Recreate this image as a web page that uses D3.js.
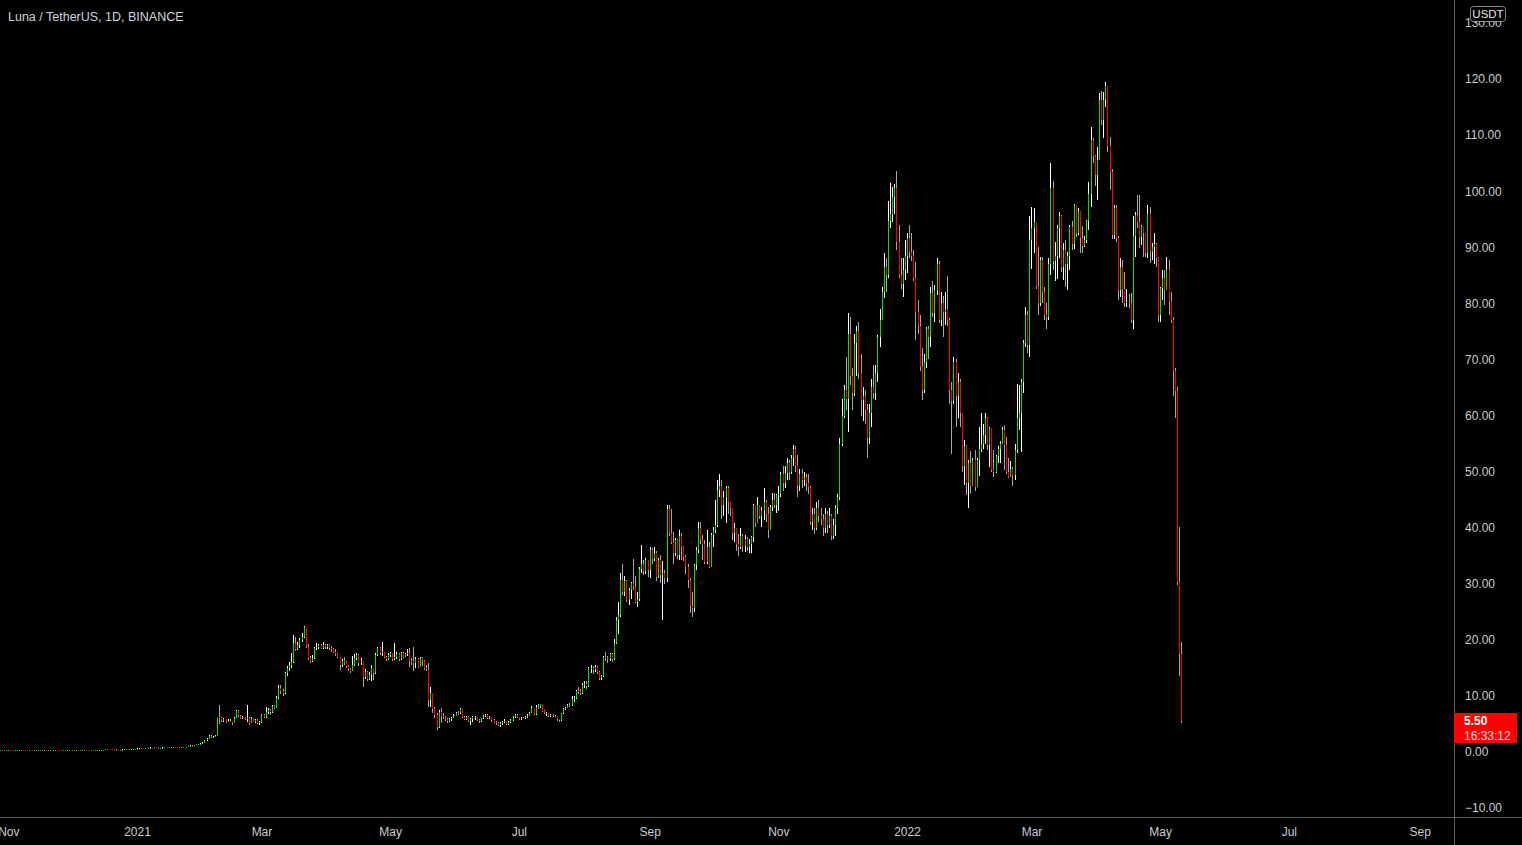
<!DOCTYPE html>
<html>
<head>
<meta charset="utf-8">
<script src="https://cdn.jsdelivr.net/npm/d3@7"></script>
<style>
html, body { margin: 0; background: #000; overflow: hidden; }
svg { display: block; }
</style>
</head>
<body>
<svg id="chart"></svg>
<script>
// daily candles: [close, high, low], open = previous close
const firstOpen = 0.30;
const oct20 = [[0.30,0.31,0.28],[0.29,0.31,0.28],[0.28,0.30,0.27],[0.29,0.30,0.27]];
const nov20 = [[0.29,0.30,0.27],[0.28,0.30,0.27],[0.27,0.29,0.26],[0.27,0.28,0.25],[0.28,0.29,0.26],[0.30,0.31,0.27],[0.31,0.33,0.29],[0.30,0.32,0.29],[0.29,0.31,0.28],[0.28,0.30,0.27],
  [0.29,0.30,0.27],[0.28,0.30,0.27],[0.28,0.29,0.27],[0.27,0.29,0.26],[0.27,0.28,0.25],[0.29,0.30,0.26],[0.28,0.30,0.27],[0.30,0.31,0.27],[0.29,0.31,0.28],[0.29,0.30,0.28],
  [0.31,0.32,0.28],[0.33,0.35,0.30],[0.34,0.36,0.32],[0.33,0.35,0.31],[0.31,0.34,0.29],[0.29,0.32,0.27],[0.30,0.31,0.28],[0.31,0.32,0.29],[0.33,0.34,0.30],[0.34,0.36,0.32]];
const dec20 = [[0.36,0.38,0.33],[0.35,0.37,0.34],[0.37,0.38,0.34],[0.36,0.38,0.35],[0.37,0.39,0.35],[0.38,0.40,0.36],[0.37,0.39,0.36],[0.36,0.38,0.35],[0.35,0.37,0.33],[0.36,0.37,0.34],
  [0.35,0.37,0.34],[0.37,0.38,0.34],[0.38,0.40,0.36],[0.39,0.40,0.37],[0.40,0.42,0.38],[0.42,0.44,0.39],[0.45,0.47,0.41],[0.48,0.50,0.44],[0.47,0.49,0.45],[0.46,0.48,0.44],
  [0.44,0.47,0.42],[0.43,0.45,0.40],[0.40,0.44,0.37],[0.42,0.43,0.39],[0.44,0.45,0.41],[0.47,0.48,0.43],[0.48,0.50,0.45],[0.50,0.52,0.47],[0.52,0.54,0.49],[0.54,0.56,0.51],[0.58,0.60,0.53]];
const jan21 = [[0.62,0.66,0.56],[0.60,0.65,0.57],[0.66,0.69,0.59],[0.64,0.68,0.58],[0.70,0.72,0.63],[0.74,0.77,0.69],[0.78,0.82,0.72],[0.75,0.80,0.70],[0.82,0.85,0.74],[0.80,0.86,0.76],
  [0.70,0.81,0.64],[0.72,0.76,0.67],[0.80,0.83,0.71],[0.85,0.88,0.79],[0.83,0.88,0.79],[0.88,0.91,0.82],[0.90,0.94,0.86],[0.95,0.98,0.88],[0.92,0.97,0.89],[0.88,0.93,0.84],
  [0.82,0.89,0.78],[0.86,0.88,0.80],[0.90,0.93,0.85],[0.95,0.97,0.88],[1.05,1.08,0.94],[1.15,1.20,1.02],[1.10,1.18,1.05],[1.25,1.28,1.08],[1.35,1.40,1.22],[1.40,1.46,1.30],[1.45,1.52,1.36]];
const feb21 = [[1.60,1.70,1.42],[2.10,2.20,1.58],[2.30,2.45,2.00],[2.90,3.00,2.25],[2.60,3.10,2.50],[2.70,2.85,2.45],[2.90,3.05,2.60],[6.20,6.30,2.80],[6.00,8.40,5.00],[5.60,6.30,5.30],
  [5.80,6.10,5.40],[5.40,5.90,5.20],[5.60,5.80,5.30],[5.50,5.80,5.30],[5.20,5.60,4.90],[6.10,6.30,5.10],[7.30,7.50,6.00],[6.50,7.40,6.30],[6.00,6.60,5.80],[6.20,6.50,5.80],
  [5.90,6.30,5.70],[6.10,8.30,5.30],[5.20,6.20,4.80],[6.00,6.20,5.10],[5.40,6.10,5.30],[5.70,5.90,5.10],[5.10,5.80,5.00],[5.30,5.60,4.90]];
const mar21 = [[6.60,6.80,5.20],[6.20,6.70,6.00],[7.20,8.00,6.10],[7.50,7.80,6.80],[7.10,7.60,6.60],[8.20,8.40,7.00],[7.90,8.40,7.60],[9.60,9.90,7.80],[11.5,12.0,9.40],[10.8,12.0,10.3],
  [10.5,11.2,10.0],[14.0,14.3,10.4],[15.0,15.4,13.6],[15.3,16.0,14.5],[16.0,17.7,15.0],[19.5,20.9,15.8],[18.4,20.5,18.0],[19.0,19.6,18.2],[20.0,20.4,18.6],[20.5,21.2,19.6],
  [22.2,22.4,20.3],[18.8,22.3,18.5],[16.8,19.2,16.4],[16.3,17.2,15.9],[16.8,17.3,16.0],[18.5,18.7,16.6],[18.8,19.4,18.2],[19.0,19.3,18.4],[18.6,19.3,18.3],[19.1,19.6,18.4],[18.7,19.3,18.3]];
const apr21 = [[19.0,19.3,18.4],[18.5,19.2,18.2],[18.3,18.9,17.9],[17.9,18.5,17.6],[17.5,18.4,17.2],[16.9,17.7,16.7],[15.5,17.0,14.7],[16.2,16.5,15.2],[16.0,16.9,15.6],[15.3,16.2,15.0],
  [14.8,15.6,14.5],[14.5,15.0,14.1],[15.6,17.2,14.4],[16.7,17.5,15.4],[17.3,17.7,16.4],[15.8,17.4,15.4],[16.2,16.8,15.6],[13.4,16.3,11.6],[14.2,14.8,13.0],[13.1,14.4,12.6],
  [13.8,14.2,12.9],[14.9,15.6,12.6],[14.0,15.0,12.8],[17.3,17.6,13.9],[18.6,18.8,17.2],[17.6,18.7,17.3],[17.8,19.6,17.2],[17.0,17.9,16.8],[16.5,17.2,16.2],[17.3,17.6,16.4]];
const may21 = [[17.6,17.9,17.0],[16.6,17.7,16.3],[17.0,19.4,16.4],[17.5,17.8,16.5],[16.5,17.6,16.2],[17.6,17.9,16.4],[17.0,17.8,16.8],[17.4,17.6,16.9],[17.7,18.4,17.1],[16.3,18.6,15.1],
  [16.2,16.8,15.6],[15.8,18.8,14.5],[16.5,16.9,15.0],[15.2,16.7,15.0],[16.7,16.9,15.1],[16.3,17.0,15.4],[15.0,16.4,14.6],[14.8,15.6,14.4],[9.30,15.9,8.00],[10.5,11.6,8.00],
  [7.60,10.6,7.00],[6.60,8.00,6.00],[4.50,6.90,3.90],[7.20,7.50,4.30],[6.50,7.80,5.20],[6.30,6.90,5.90],[5.80,6.50,5.50],[5.60,6.00,5.20],[5.90,6.10,5.30],[6.10,6.30,5.60],[6.50,6.80,6.00]];
const jun21 = [[7.00,7.20,6.40],[6.90,7.30,6.60],[7.70,7.90,6.80],[6.30,7.70,6.10],[5.90,6.50,5.70],[6.30,6.50,5.70],[5.50,6.40,5.30],[5.80,6.00,4.90],[6.20,6.40,5.40],[6.20,6.40,5.70],
  [5.70,6.30,5.50],[5.50,5.80,5.20],[6.00,6.10,5.40],[6.40,6.60,5.90],[6.60,6.80,6.20],[6.00,6.70,5.90],[6.30,6.40,5.90],[5.70,6.30,5.40],[5.40,5.80,5.20],[5.10,5.50,4.80],
  [4.90,5.40,4.60],[5.20,5.40,4.50],[5.30,5.60,4.90],[5.60,5.80,5.10],[5.00,5.60,4.90],[5.40,5.60,4.90],[5.70,5.80,5.20],[6.20,6.40,5.60],[6.60,6.80,6.10],[6.20,6.70,6.00]];
const jul21 = [[5.90,6.30,5.70],[6.10,6.20,5.70],[6.00,6.30,5.80],[6.30,6.40,5.90],[6.50,6.70,6.00],[7.00,7.20,6.40],[7.80,8.20,6.90],[6.70,7.90,6.60],[8.10,8.30,6.60],[8.00,8.60,7.70],
  [8.50,8.60,7.80],[7.30,8.50,7.10],[6.90,7.40,6.70],[6.90,7.10,6.50],[6.50,7.00,6.30],[6.60,6.80,6.30],[6.40,6.70,6.20],[6.40,6.60,6.20],[5.80,6.50,5.60],[5.70,5.90,5.40],
  [6.90,7.00,5.60],[7.60,7.80,6.80],[7.90,8.10,7.40],[8.40,8.60,7.80],[8.30,8.70,8.00],[9.50,9.90,8.20],[9.60,10.0,9.00],[10.9,11.0,9.50],[10.8,11.6,10.3],[10.5,11.2,10.1],[12.0,12.3,10.4]];
const aug21 = [[12.2,12.7,11.4],[11.8,12.6,11.3],[14.9,15.2,11.6],[15.0,15.5,14.1],[14.6,15.3,13.9],[15.2,15.5,14.3],[14.2,15.4,13.9],[13.2,14.5,12.9],[13.5,13.8,12.8],[17.0,17.2,13.3],
  [16.8,17.9,16.2],[16.5,17.2,15.9],[17.4,17.7,16.2],[16.5,17.6,16.1],[19.5,20.2,16.4],[23.5,24.0,19.2],[24.5,26.8,21.0],[30.7,31.9,24.0],[28.6,33.5,28.0],[30.5,31.3,27.8],
  [27.1,30.7,26.8],[28.9,29.3,26.2],[30.1,30.4,27.2],[29.5,34.5,28.9],[26.8,31.3,26.5],[27.3,28.5,25.9],[32.7,33.0,27.0],[33.5,36.9,32.0],[32.2,34.2,31.5],[34.3,34.6,31.8],[32.5,33.6,31.2]];
const sep21 = [[36.0,36.6,31.0],[34.5,36.3,33.5],[35.5,36.6,34.0],[31.2,35.8,30.5],[34.3,34.6,31.0],[31.5,35.1,30.1],[32.0,34.0,23.5],[31.0,32.5,30.0],[43.4,44.0,30.4],[39.0,44.0,38.5],
  [37.5,43.4,37.0],[35.4,39.3,33.6],[37.8,38.2,35.0],[35.1,38.0,34.5],[38.5,39.6,34.2],[36.5,39.0,34.2],[34.8,36.8,34.0],[33.0,35.1,31.8],[30.7,33.5,29.2],[26.0,31.0,24.7],
  [25.6,28.5,24.1],[33.3,33.6,25.0],[36.0,36.6,32.5],[40.0,41.0,35.5],[37.8,41.0,37.0],[37.0,38.7,34.2],[33.9,37.8,33.5],[36.6,39.6,33.6],[33.0,37.5,32.8],[38.7,39.0,33.0]];
const oct21 = [[39.5,40.2,36.6],[40.5,45.0,39.0],[46.7,48.5,40.2],[47.5,49.5,45.5],[44.0,48.5,41.5],[45.5,46.5,42.0],[47.0,47.5,40.8],[44.5,47.5,42.5],[43.5,44.3,42.0],[39.0,43.5,37.8],
  [40.0,40.8,37.5],[37.0,40.0,35.8],[36.5,38.8,35.0],[38.5,39.9,36.2],[36.8,38.8,35.7],[38.0,38.7,35.7],[36.5,38.3,35.9],[37.0,38.0,35.5],[38.4,38.6,35.4],[44.0,44.3,37.5],
  [40.8,43.5,40.2],[44.0,45.5,40.8],[42.0,43.7,41.5],[43.1,43.7,40.2],[44.5,47.0,41.4],[42.5,45.0,41.0],[39.6,43.7,38.1],[43.7,44.0,39.6],[45.0,46.1,43.0],[44.0,46.1,43.5],[45.8,46.0,42.6]];
const nov21 = [[46.0,47.5,43.0],[49.5,50.0,45.5],[48.0,51.0,46.5],[49.8,51.0,47.0],[51.5,52.5,48.5],[50.0,52.0,48.5],[52.5,53.0,49.5],[54.0,54.8,51.0],[51.0,54.5,50.0],[47.5,53.0,45.5],
  [49.5,50.5,46.5],[48.5,50.5,47.0],[49.0,50.0,47.5],[48.0,49.5,46.5],[47.2,49.5,46.0],[41.0,47.5,40.5],[42.5,43.5,39.5],[40.0,43.5,38.8],[43.5,44.5,39.5],[42.0,45.0,41.0],
  [41.5,43.5,40.5],[40.0,42.5,38.5],[42.5,43.5,39.0],[40.5,43.0,39.0],[42.0,43.5,40.0],[38.5,42.5,37.8],[40.5,41.5,38.0],[43.5,44.0,38.5],[45.5,46.0,42.5],[55.0,56.0,45.0]];
const dec21 = [[60.0,63.0,54.5],[64.5,65.5,59.5],[63.0,70.5,61.0],[74.5,78.2,57.0],[67.0,77.5,65.5],[64.0,68.5,61.0],[73.0,74.5,63.5],[75.0,76.0,67.0],[67.5,76.7,66.5],[62.8,71.0,60.0],
  [63.5,65.0,59.0],[61.0,64.5,58.5],[56.0,62.0,52.5],[60.5,62.0,55.0],[65.0,66.5,58.0],[64.0,69.0,63.0],[67.5,69.0,62.8],[74.0,74.4,66.0],[77.0,79.0,72.3],[82.0,83.0,77.0],
  [86.5,89.0,81.0],[85.0,88.0,82.0],[94.6,98.2,84.5],[96.0,101.4,93.5],[99.0,100.8,94.5],[100.5,101.2,96.0],[91.0,103.6,89.5],[85.0,94.0,84.5],[83.5,88.0,82.5],[86.0,88.0,81.2],[88.5,91.3,84.2]];
const jan22 = [[91.6,92.5,85.4],[89.2,94.0,88.0],[88.5,92.5,87.5],[84.5,89.5,84.0],[78.5,87.4,73.5],[76.0,80.6,74.5],[68.7,78.0,68.0],[64.5,72.0,62.7],[69.5,71.0,64.0],[75.5,75.8,68.4],
  [74.0,76.0,70.0],[81.8,83.0,72.3],[78.2,83.9,77.5],[82.4,83.3,76.6],[87.1,88.0,81.5],[77.0,87.5,76.5],[80.0,82.0,76.0],[78.5,81.3,74.0],[79.0,82.1,76.1],[77.0,84.9,76.0],
  [64.5,77.3,62.0],[62.5,66.0,53.2],[69.5,70.5,62.0],[63.5,70.0,58.0],[66.0,67.5,59.5],[60.5,66.5,58.0],[51.0,60.0,50.0],[54.5,55.6,47.6],[48.0,54.8,45.9],[51.5,52.0,43.5],[47.5,53.6,46.0]];
const feb22 = [[52.0,52.5,47.9],[47.3,53.9,46.5],[52.1,52.5,47.3],[54.0,58.0,49.2],[55.0,60.4,53.5],[56.5,58.5,54.0],[59.5,60.4,55.0],[54.7,59.8,53.8],[57.7,58.0,50.8],[50.3,56.2,50.0],
  [50.0,53.9,49.0],[52.7,53.0,49.7],[54.0,54.5,51.5],[55.0,55.5,51.5],[57.5,58.0,55.0],[54.7,58.3,50.3],[50.0,56.2,49.5],[49.0,52.5,48.8],[50.5,51.8,49.5],[49.4,50.9,47.4],
  [53.8,55.0,48.5],[59.5,65.7,53.3],[60.5,65.5,57.5],[66.0,66.5,53.5],[73.0,73.5,64.0],[78.0,79.4,72.3],[72.5,78.6,71.1],[91.3,95.5,70.5]];
const mar22 = [[93.5,97.2,86.2],[94.5,97.0,89.0],[83.0,94.3,82.5],[80.0,90.0,78.0],[87.7,88.3,79.5],[82.0,88.3,80.0],[78.0,83.0,77.0],[77.5,80.0,75.5],[87.1,88.0,77.0],[100.5,105.0,85.0],
  [87.5,101.8,86.0],[88.5,91.0,84.0],[93.4,94.0,84.3],[95.5,96.2,88.0],[86.5,95.8,85.5],[89.5,90.7,84.2],[87.0,91.3,83.0],[88.5,89.2,82.4],[93.6,94.0,86.0],[90.5,94.6,89.5],
  [97.5,97.8,89.7],[92.5,96.5,91.8],[96.5,97.0,92.2],[91.6,96.3,88.9],[90.2,93.7,88.9],[91.3,92.0,90.0],[94.6,94.8,90.8],[99.5,101.7,93.0],[109.1,111.5,97.2],[106.2,109.5,105.0],[102.9,106.5,101.0]];
const apr22 = [[105.6,107.9,98.4],[116.3,117.5,105.6],[112.7,117.8,111.8],[116.3,117.7,109.4],[118.7,119.4,115.0],[108.0,118.7,107.0],[103.5,109.7,100.2],[92.2,104.0,91.5],[97.0,97.5,91.5],[91.6,97.5,91.0],
  [82.4,92.0,80.6],[86.5,88.0,81.2],[82.6,87.8,80.1],[80.0,85.5,79.4],[80.3,82.5,79.4],[80.0,81.7,79.2],[77.0,81.8,76.5],[92.0,95.5,75.5],[95.8,96.2,88.3],[94.5,99.3,93.4],
  [91.9,99.3,89.8],[93.7,94.0,90.4],[92.5,93.7,88.3],[89.0,92.5,88.3],[96.0,97.5,88.0],[89.2,97.2,87.2],[90.0,90.8,87.7],[90.5,92.5,87.1],[88.0,90.8,86.5],[78.0,88.3,76.6]];
const may22 = [[82.7,83.0,76.6],[84.5,85.9,80.6],[82.4,85.9,79.7],[86.0,88.3,82.4],[80.5,87.7,78.0],[77.0,82.0,76.5],[68.0,77.5,63.4],[64.3,68.4,59.5],[30.3,65.1,29.8],[17.5,40.1,13.6],[5.5,19.7,5.2]];

const monthStarts = ["2020-10-28","2020-11-01","2020-12-01","2021-01-01","2021-02-01","2021-03-01","2021-04-01","2021-05-01","2021-06-01","2021-07-01",
  "2021-08-01","2021-09-01","2021-10-01","2021-11-01","2021-12-01","2022-01-01","2022-02-01","2022-03-01","2022-04-01","2022-05-01"];
const monthRows = [oct20, nov20, dec20, jan21, feb21, mar21, apr21, may21, jun21, jul21,
  aug21, sep21, oct21, nov21, dec21, jan22, feb22, mar22, apr22, may22];

const priceTicks = [-10, 0, 10, 20, 30, 40, 50, 60, 70, 80, 90, 100, 110, 120, 130];
const timeTicks = ["2020-11-01","2021-01-01","2021-03-01","2021-05-01","2021-07-01","2021-09-01","2021-11-01","2022-01-01","2022-03-01","2022-05-01","2022-07-01","2022-09-01"];
const timeLabels = ["Nov","2021","Mar","May","Jul","Sep","Nov","2022","Mar","May","Jul","Sep"];

const title = "Luna / TetherUS, 1D, BINANCE";
const lastPrice = 5.50;
const countdown = "16:33:12";

const width = 1522, height = 845;
const plotRight = 1454, axisTop = 817;
const font = "'Liberation Sans', Arial, sans-serif";
const textColor = "#c9ccd4";

const svg = d3.select("#chart").attr("width", width).attr("height", height);

const parse = d3.utcParse("%Y-%m-%d");

var x = d3.scaleUtc()
    .domain([parse("2020-11-01"), parse("2022-01-01")])
    .range([8.3, 907]);

var y = d3.scaleLinear()
    .domain([0, 120])
    .range([752, 79]);

// build candles
var candles = [];
var prev = firstOpen;
monthRows.forEach(function(rows, m) {
    var t0 = parse(monthStarts[m]);
    rows.forEach(function(r, i) {
        var o = prev, c = r[0];
        candles.push({
            date: d3.utcDay.offset(t0, i),
            o: o, c: c,
            h: Math.max(r[1], o, c),
            l: Math.min(r[2], o, c)
        });
        prev = c;
    });
});

// separators
svg.append("line")
    .attr("x1", 0).attr("x2", width)
    .attr("y1", axisTop + 0.5).attr("y2", axisTop + 0.5)
    .attr("stroke", "#5d5d5d");
svg.append("line")
    .attr("x1", plotRight + 0.5).attr("x2", plotRight + 0.5)
    .attr("y1", 0).attr("y2", height)
    .attr("stroke", "#5d5d5d");

// candles
var plot = svg.append("g").attr("shape-rendering", "crispEdges");

plot.selectAll("rect.wick")
    .data(candles)
    .enter().append("rect")
    .attr("class", "wick")
    .attr("x", function(d) { return Math.round(x(d.date)); })
    .attr("y", function(d) { return Math.round(y(d.h)); })
    .attr("width", 1)
    .attr("height", function(d) { return Math.max(1, Math.round(y(d.l)) - Math.round(y(d.h))); })
    .attr("fill", function(d) { return d.c >= d.o ? "#ffffff" : "#a6a6a6"; });

plot.selectAll("rect.body")
    .data(candles)
    .enter().append("rect")
    .attr("class", "body")
    .attr("x", function(d) { return Math.round(x(d.date)); })
    .attr("y", function(d) { return Math.round(y(Math.max(d.o, d.c))); })
    .attr("width", 1)
    .attr("height", function(d) {
        return Math.max(1, Math.round(y(Math.min(d.o, d.c))) - Math.round(y(Math.max(d.o, d.c))));
    })
    .attr("fill", function(d) { return d.c >= d.o ? "#00e600" : "#ff0000"; });

// time axis
var xAxis = d3.axisBottom(x)
    .tickValues(timeTicks.map(parse))
    .tickFormat(function(d, i) { return timeLabels[i]; })
    .tickSize(0)
    .tickPadding(10);

svg.append("g")
    .attr("transform", "translate(0," + axisTop + ")")
    .call(xAxis)
    .call(function(g) { g.select(".domain").remove(); })
    .selectAll("text")
    .attr("fill", textColor)
    .style("font-family", font)
    .style("font-size", "12px");

// price axis
var yAxis = d3.axisRight(y)
    .tickValues(priceTicks)
    .tickFormat(d3.format(".2f"))
    .tickSize(0)
    .tickPadding(11);

svg.append("g")
    .attr("transform", "translate(" + plotRight + ",0)")
    .call(yAxis)
    .call(function(g) { g.select(".domain").remove(); })
    .selectAll("text")
    .attr("fill", textColor)
    .style("font-family", font)
    .style("font-size", "12px");

// currency badge
svg.append("rect")
    .attr("x", 1470.5).attr("y", 6.5)
    .attr("width", 35).attr("height", 15)
    .attr("rx", 3)
    .attr("fill", "#000")
    .attr("stroke", "#8c8c8c");
svg.append("text")
    .attr("x", 1488).attr("y", 18)
    .attr("text-anchor", "middle")
    .attr("fill", "#e6e6e6")
    .style("font-family", font)
    .style("font-size", "11.5px")
    .text("USDT");

// last price label
var py = y(lastPrice);
svg.append("rect")
    .attr("x", plotRight).attr("y", Math.round(py) - 8)
    .attr("width", 63).attr("height", 30)
    .attr("fill", "#ff0000");
svg.append("text")
    .attr("x", plotRight + 10).attr("y", Math.round(py) + 4)
    .attr("fill", "#ffffff")
    .style("font-family", font)
    .style("font-size", "12px")
    .style("font-weight", "bold")
    .text(d3.format(".2f")(lastPrice));
svg.append("text")
    .attr("x", plotRight + 10).attr("y", Math.round(py) + 18.5)
    .attr("fill", "#ffe6e6")
    .style("font-family", font)
    .style("font-size", "12px")
    .text(countdown);

// title
svg.append("text")
    .attr("x", 8).attr("y", 20.5)
    .attr("fill", "#d1d4dc")
    .style("font-family", font)
    .style("font-size", "12.5px")
    .text(title);
</script>
</body>
</html>
